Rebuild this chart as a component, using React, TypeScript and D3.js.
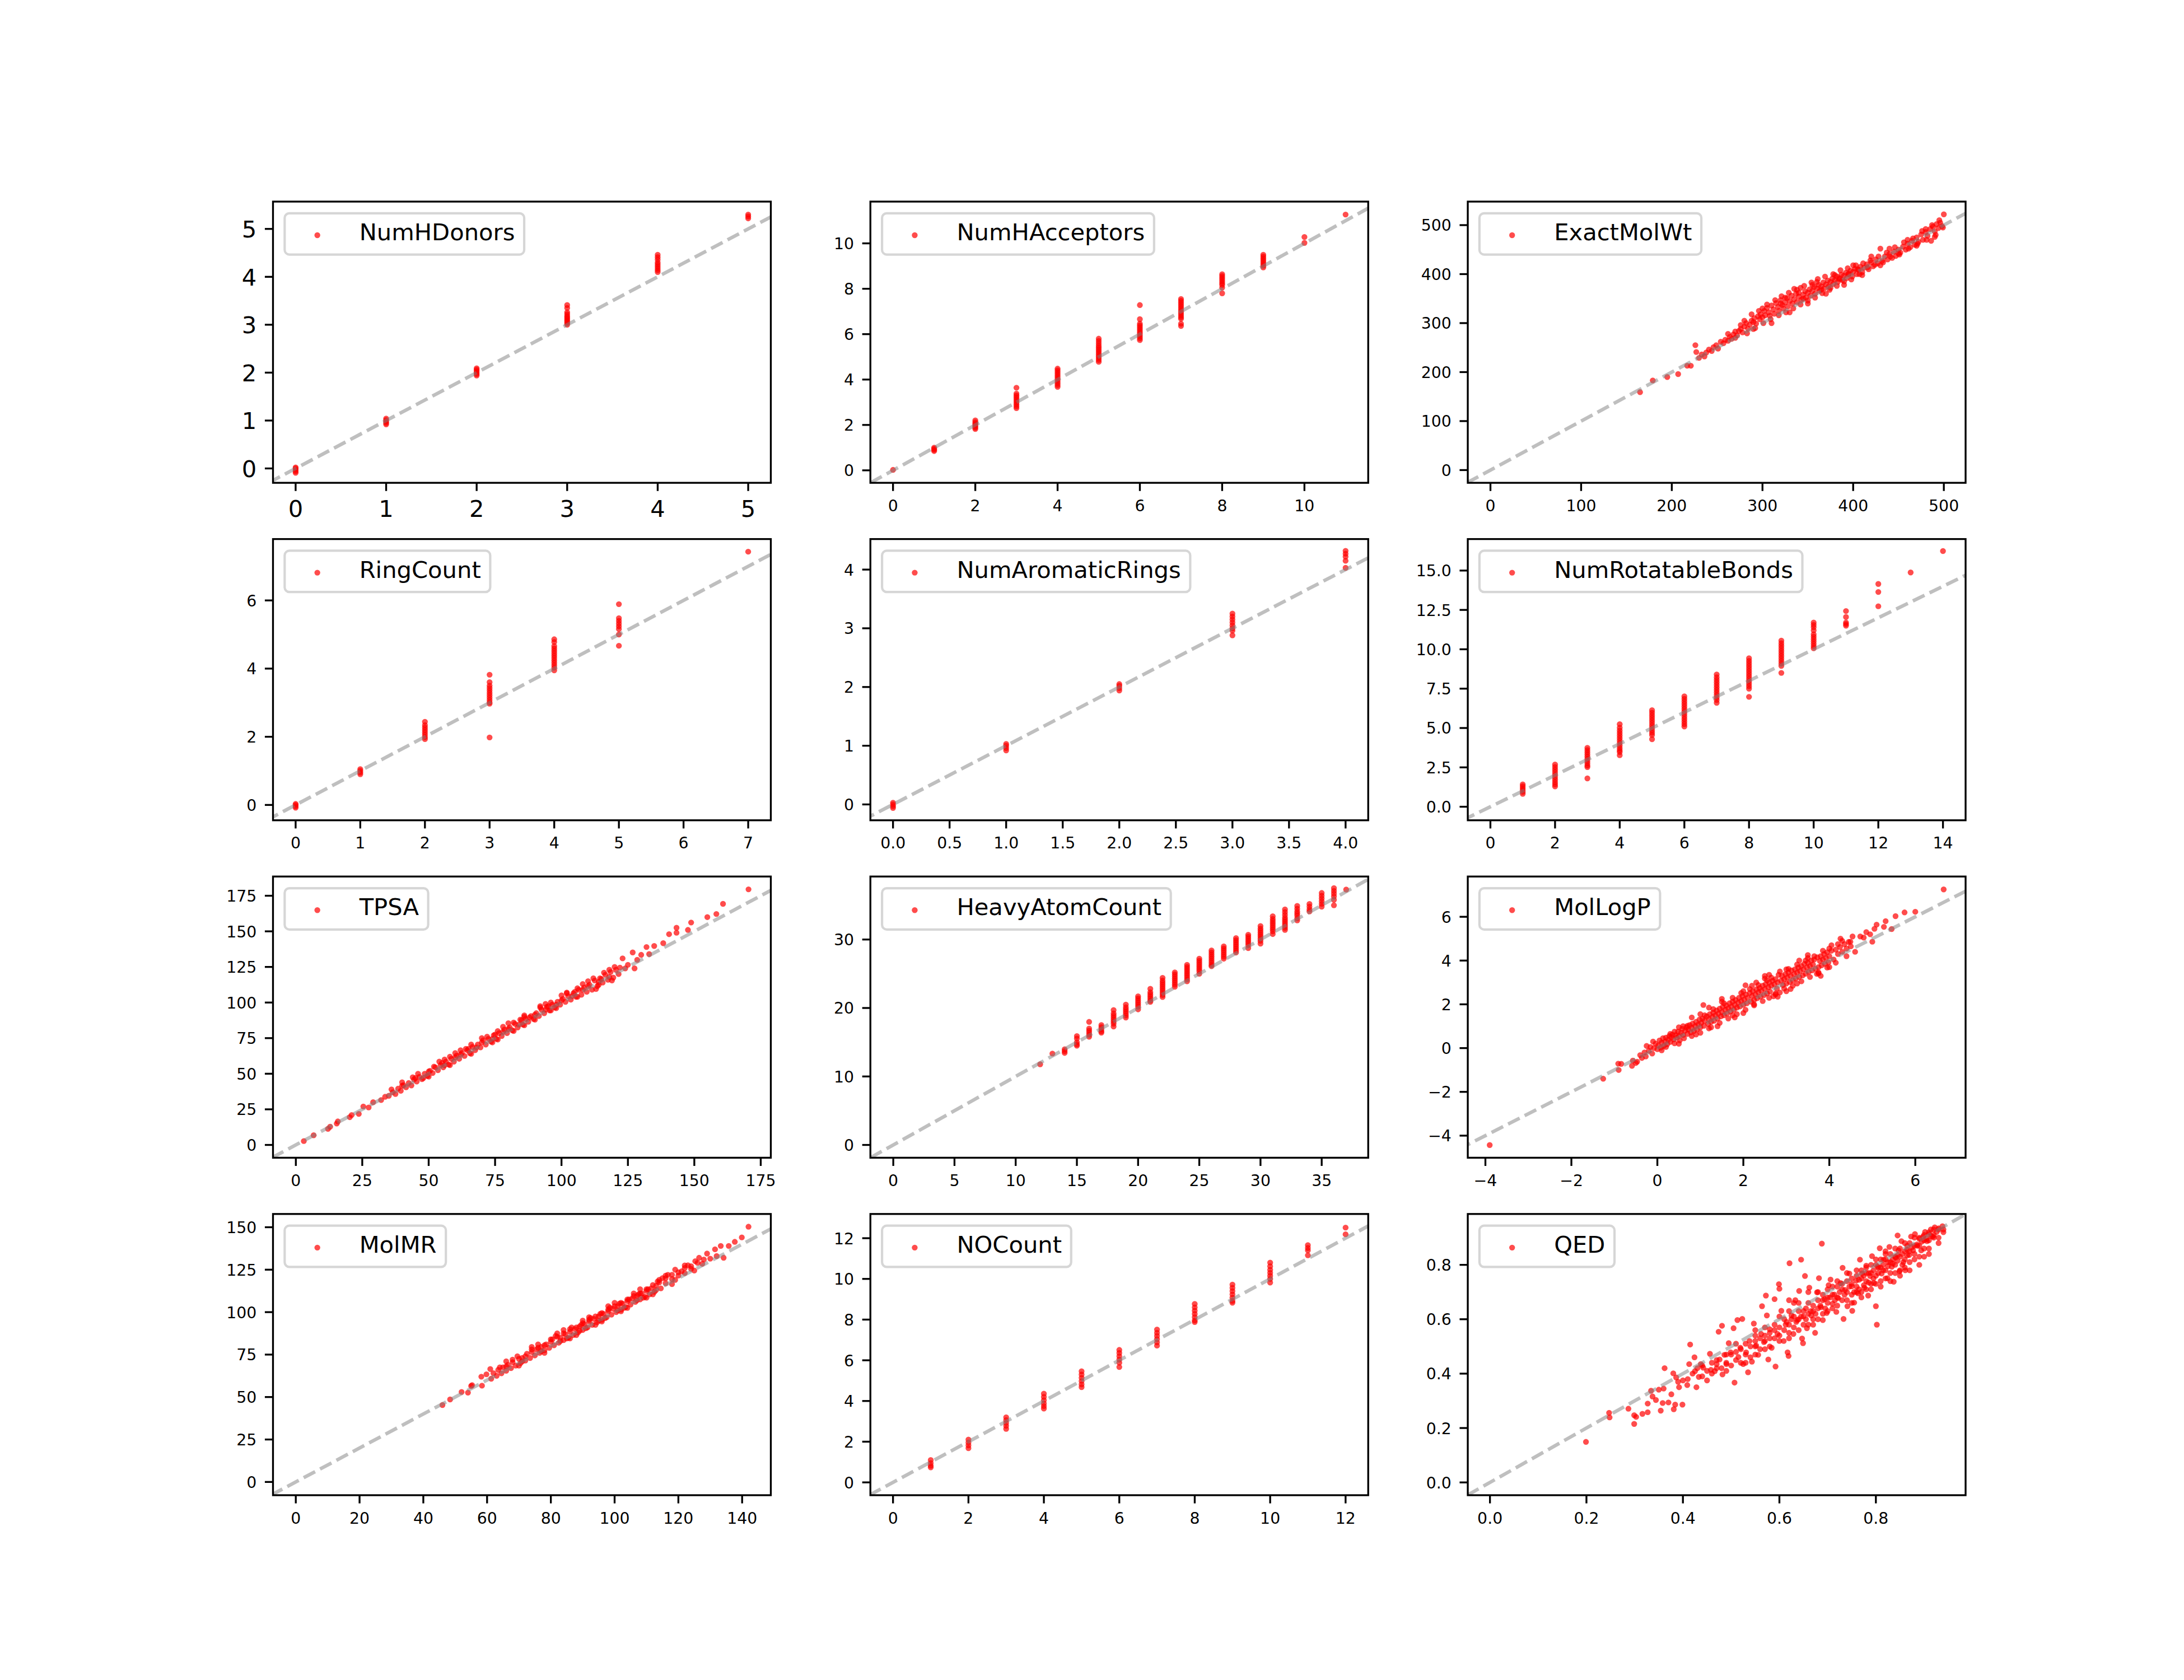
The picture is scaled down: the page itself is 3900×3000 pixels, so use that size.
import { useEffect, useRef } from 'react';
import * as d3 from 'd3';

type Pt = [number, number];

// ---- data: [reference, predicted] pairs ----
const numHDonors: Pt[] = [
  [0, -0.09], [0, -0.06], [0, -0.03], [0, 0.0], [0, 0.02],
  [1, 0.92], [1, 0.95], [1, 0.98], [1, 1.01], [1, 1.04],
  [2, 1.94], [2, 1.97], [2, 2.0], [2, 2.03], [2, 2.06], [2, 2.09],
  [3, 3.41], [3, 3.35], [3, 3.26], [3, 3.22], [3, 3.18], [3, 3.15], [3, 3.12], [3, 3.09], [3, 3.06], [3, 3.03], [3, 3.0],
  [4, 4.46], [4, 4.41], [4, 4.36], [4, 4.3], [4, 4.26], [4, 4.22], [4, 4.18], [4, 4.14], [4, 4.1],
  [5, 5.3], [5, 5.26], [5, 5.22],
];

const numHAcceptors: Pt[] = [
  [0, 0.02],
  [1, 0.85], [1, 0.9], [1, 0.95], [1, 1.0],
  [2, 1.82], [2, 1.88], [2, 1.94], [2, 2.0], [2, 2.06], [2, 2.12], [2, 2.2],
  [3, 3.64], [3, 3.38], [3, 3.3], [3, 3.22], [3, 3.14], [3, 3.06], [3, 2.98], [3, 2.9], [3, 2.82], [3, 2.74],
  [4, 4.48], [4, 4.4], [4, 4.32], [4, 4.24], [4, 4.16], [4, 4.08], [4, 4.0], [4, 3.92], [4, 3.84], [4, 3.76], [4, 3.68],
  [5, 5.8], [5, 5.7], [5, 5.6], [5, 5.5], [5, 5.42], [5, 5.34], [5, 5.26], [5, 5.18], [5, 5.1], [5, 5.02], [5, 4.94], [5, 4.86], [5, 4.78],
  [6, 7.28], [6, 6.66], [6, 6.46], [6, 6.38], [6, 6.3], [6, 6.22], [6, 6.14], [6, 6.06], [6, 5.98], [6, 5.9], [6, 5.82], [6, 5.74],
  [7, 7.55], [7, 7.47], [7, 7.39], [7, 7.31], [7, 7.23], [7, 7.15], [7, 7.07], [7, 6.99], [7, 6.91], [7, 6.83], [7, 6.75], [7, 6.68], [7, 6.46], [7, 6.36],
  [8, 8.64], [8, 8.56], [8, 8.48], [8, 8.4], [8, 8.32], [8, 8.24], [8, 8.17], [8, 8.05], [8, 7.8],
  [9, 9.5], [9, 9.42], [9, 9.34], [9, 9.26], [9, 9.18], [9, 9.1], [9, 9.02], [9, 8.94],
  [10, 10.28], [10, 10.02],
  [11, 11.27],
];

const exactMolWt: Pt[] = [
  [165, 159], [179, 183], [195, 190], [207, 196], [217, 213], [221, 213], [226, 255], [227, 241], [230, 229],
  [233, 236], [236, 232], [238, 240], [241, 246], [244, 243], [246, 251], [249, 255], [251, 248], [254, 262], [257, 259],
  [259, 266], [262, 264], [264, 272], [266, 268], [268, 277], [270, 283], [272, 275], [274, 284], [276, 288], [278, 281],
  [280, 293], [282, 300], [284, 289], [286, 297], [288, 305], [290, 302], [291, 310], [293, 299], [295, 314], [297, 308],
  [298, 318], [300, 312], [302, 325], [303, 316], [305, 331], [307, 322], [308, 315], [310, 336], [312, 328], [313, 319],
  [315, 341], [317, 333], [318, 325], [320, 347], [322, 337], [323, 330], [325, 342], [327, 351], [328, 334], [330, 345],
  [332, 356], [333, 340], [335, 349], [337, 360], [338, 343], [340, 354], [342, 372], [343, 348], [345, 358], [347, 365],
  [348, 352], [350, 362], [352, 369], [353, 356], [355, 366], [357, 374], [358, 360], [360, 371], [362, 378], [363, 366],
  [365, 375], [367, 383], [368, 371], [370, 379], [372, 387], [373, 375], [375, 384], [377, 391], [378, 380], [380, 388],
  [382, 395], [383, 384], [385, 392], [387, 399], [388, 388], [390, 397], [392, 403], [393, 392], [395, 401], [397, 407],
  [398, 389], [400, 405], [402, 411], [404, 400], [406, 409], [408, 415], [410, 404], [412, 413], [415, 420], [417, 410],
  [420, 424], [422, 416], [425, 430], [427, 422], [430, 452], [432, 427], [435, 436], [438, 430], [440, 441], [443, 433],
  [445, 446], [447, 437], [450, 450], [452, 444], [455, 456], [458, 450], [460, 462], [463, 455], [465, 468], [468, 460],
  [470, 475], [472, 466], [475, 481], [477, 470], [480, 486], [482, 478], [485, 492], [486, 468], [488, 497], [490, 487],
  [492, 502], [494, 494], [496, 505], [498, 498], [500, 522],
  [262, 278], [270, 270], [276, 296], [283, 279], [288, 318], [292, 290], [296, 325], [301, 300], [305, 338], [309, 308],
  [314, 347], [318, 316], [321, 355], [326, 322], [329, 362], [334, 330], [338, 368], [342, 338], [346, 376], [350, 346],
  [354, 383], [358, 352], [361, 390], [366, 361], [369, 395], [374, 368], [378, 400], [382, 376], [386, 408], [390, 385],
  [394, 412], [399, 395], [403, 418], [407, 400], [411, 422], [416, 414], [419, 428], [424, 419], [428, 436], [433, 424],
  [437, 444], [441, 436], [446, 455], [451, 440], [456, 465], [461, 452], [466, 473], [471, 462], [476, 488], [481, 470],
  [487, 500], [491, 480], [495, 510], [499, 495],
  [280, 305], [290, 288], [300, 330], [310, 300], [320, 340], [330, 322], [340, 362], [350, 340], [360, 384], [370, 360],
  [380, 398], [390, 378], [400, 418], [410, 398], [420, 436], [430, 418], [440, 452], [450, 442], [460, 470], [470, 458],
  [480, 492], [490, 476], [345, 350], [365, 368], [385, 390], [405, 410], [325, 352], [335, 370], [355, 378], [375, 372],
  [395, 400],
];

const ringCount: Pt[] = [
  [0, -0.08], [0, -0.04], [0, 0.0], [0, 0.03],
  [1, 0.9], [1, 0.95], [1, 1.0], [1, 1.05],
  [2, 2.44], [2, 2.34], [2, 2.27], [2, 2.2], [2, 2.13], [2, 2.06], [2, 1.99], [2, 1.93],
  [3, 3.82], [3, 3.6], [3, 3.5], [3, 3.43], [3, 3.36], [3, 3.29], [3, 3.22], [3, 3.15], [3, 3.08], [3, 3.01], [3, 2.97], [3, 1.98],
  [4, 4.86], [4, 4.78], [4, 4.66], [4, 4.59], [4, 4.52], [4, 4.45], [4, 4.38], [4, 4.31], [4, 4.24], [4, 4.17], [4, 4.1], [4, 4.03], [4, 3.95],
  [5, 5.89], [5, 5.48], [5, 5.4], [5, 5.32], [5, 5.24], [5, 5.16], [5, 5.0], [5, 4.67],
  [7, 7.43],
];

const numAromaticRings: Pt[] = [
  [0, -0.06], [0, -0.03], [0, 0.0], [0, 0.03],
  [1, 0.92], [1, 0.96], [1, 1.0], [1, 1.03],
  [2, 1.94], [2, 1.98], [2, 2.02], [2, 2.05],
  [3, 3.25], [3, 3.2], [3, 3.15], [3, 3.1], [3, 3.05], [3, 3.0], [3, 2.96], [3, 2.88],
  [4, 4.32], [4, 4.27], [4, 4.22], [4, 4.15], [4, 4.03],
];

const numRotatableBonds: Pt[] = [
  [1, 1.42], [1, 1.3], [1, 1.18], [1, 1.06], [1, 0.94], [1, 0.82],
  [2, 2.68], [2, 2.52], [2, 2.36], [2, 2.2], [2, 2.04], [2, 1.88], [2, 1.72], [2, 1.56], [2, 1.42], [2, 1.29],
  [3, 3.74], [3, 3.6], [3, 3.46], [3, 3.32], [3, 3.18], [3, 3.04], [3, 2.9], [3, 2.76], [3, 2.62], [3, 2.52], [3, 1.8],
  [4, 5.24], [4, 5.02], [4, 4.84], [4, 4.68], [4, 4.52], [4, 4.36], [4, 4.2], [4, 4.04], [4, 3.88], [4, 3.72], [4, 3.58], [4, 3.47], [4, 3.27],
  [5, 6.13], [5, 5.97], [5, 5.81], [5, 5.65], [5, 5.49], [5, 5.33], [5, 5.17], [5, 5.01], [5, 4.85], [5, 4.7], [5, 4.56], [5, 4.29],
  [6, 7.01], [6, 6.85], [6, 6.69], [6, 6.53], [6, 6.37], [6, 6.21], [6, 6.05], [6, 5.89], [6, 5.73], [6, 5.57], [6, 5.41], [6, 5.25], [6, 5.1],
  [7, 8.4], [7, 8.22], [7, 8.06], [7, 7.9], [7, 7.74], [7, 7.58], [7, 7.42], [7, 7.26], [7, 7.1], [7, 6.94], [7, 6.78], [7, 6.6],
  [8, 9.43], [8, 9.26], [8, 9.1], [8, 8.94], [8, 8.78], [8, 8.62], [8, 8.46], [8, 8.3], [8, 8.14], [8, 7.98], [8, 7.82], [8, 7.66], [8, 7.5], [8, 6.98],
  [9, 10.55], [9, 10.38], [9, 10.22], [9, 10.06], [9, 9.9], [9, 9.74], [9, 9.58], [9, 9.42], [9, 9.26], [9, 9.1], [9, 8.95], [9, 8.5],
  [10, 11.7], [10, 11.55], [10, 11.4], [10, 11.2], [10, 10.95], [10, 10.8], [10, 10.65], [10, 10.5], [10, 10.35], [10, 10.2], [10, 10.07],
  [11, 12.43], [11, 12.05], [11, 11.7], [11, 11.6], [11, 11.5],
  [12, 14.15], [12, 13.64], [12, 12.73],
  [13, 14.88],
  [14, 16.24],
];

const tpsa: Pt[] = [
  [3, 2.7], [6.7, 6.8], [12.1, 11.3], [12.9, 12.8], [15.4, 15], [15.8, 16.5], [20.3, 19.5], [21, 21], [23.7, 21.8],
  [25.4, 27], [27.4, 26.3], [29.1, 30], [32.1, 31.5], [33.6, 33.8], [35, 34.5], [36.5, 37], [37.5, 35.8], [38.5, 39.5],
  [39.5, 38], [40.5, 42], [41.5, 40.5], [42.5, 43.5], [43.5, 41.8], [44.5, 46], [45.5, 44.5], [46.5, 47.8], [47.5, 46.2],
  [48.5, 50], [49.5, 48.5], [50.5, 52], [51.5, 50.5], [52.5, 54.5], [53.5, 52.5], [54.5, 56], [55.5, 54.5], [56.5, 58.5],
  [57.5, 56.5], [58.5, 60.5], [59.5, 58.5], [60.5, 62.8], [61.5, 60.5], [62.5, 64.5], [63.5, 62.5], [64.5, 66.5],
  [65.5, 64.5], [66.5, 68.8], [67.5, 66.5], [68.5, 70.5], [69.5, 68.5], [70.5, 73.5], [71.5, 70.5], [72.5, 74.5],
  [73.5, 72.5], [74.5, 77], [75.5, 74.5], [76.5, 78.5], [77.5, 76.5], [78.5, 81], [79.5, 78.5], [80.5, 82.5], [81.5, 80.5],
  [82.5, 85], [83.5, 82.5], [84.5, 88], [85.5, 84.5], [86.5, 88.5], [87.5, 86.5], [88.5, 90.5], [89.5, 88.5], [90.5, 92.5],
  [91.5, 90.5], [92.5, 95], [93.5, 92.5], [94.5, 97], [95.5, 94.5], [96.5, 98.5], [97.5, 96.5], [98.5, 100.5], [99.5, 98.5],
  [100.5, 102.5], [101.5, 100.5], [102.5, 104.5], [103.5, 102], [104.5, 106.5], [105.5, 104], [106.5, 109], [107.5, 105.5],
  [108.5, 110.5], [109.5, 107.5], [110.5, 112.5], [111.5, 109], [112.5, 115.5], [113.5, 111.5], [114.5, 117], [115.5, 114],
  [116.5, 119.5], [117.5, 116], [118.5, 121.5], [119.5, 117.5], [120.5, 123], [121.5, 120], [123, 131], [124, 124],
  [125, 126.5], [126.8, 135.2], [127.5, 124], [128.5, 130], [130, 133.5], [132, 139], [133, 134], [134.9, 139.7],
  [138.3, 141.7], [140.5, 148], [143.3, 152.5], [143.3, 149], [147.6, 151], [148.8, 156.2], [154.9, 160], [158.3, 162.2],
  [160.8, 169.3], [170.4, 179.5],
  [45, 47], [50, 51.5], [55, 57.5], [60, 61.5], [65, 67.5], [70, 72], [75, 77.5], [80, 81.5], [85, 87.5], [90, 91.5],
  [95, 97.5], [100, 101.5], [105, 107.5], [110, 111.5], [115, 116.5],
  [36, 39], [40, 41.5], [44, 47.5], [48, 47], [52, 55], [56, 56], [58, 62], [62, 63.5], [64, 67.5], [68, 68.5], [72, 76],
  [74, 74.5], [76, 80], [78, 79.5], [82, 86], [84, 84.5], [86, 90], [88, 89.5], [92, 96.5], [94, 95], [96, 100], [98, 98.5],
  [102, 106.5], [104, 104.5], [106, 110], [108, 109], [112, 117], [114, 114.5], [116, 121], [118, 118], [120, 125],
  [122, 124.5], [119, 115.5], [113, 109.5],
  [40, 44], [46, 50], [50, 48], [54, 58.5], [58, 56], [62, 66.5], [66, 64], [70, 75], [74, 72], [78, 83], [82, 80],
  [86, 91], [90, 88], [94, 99], [98, 96], [102, 107], [106, 104], [110, 115], [114, 112.5], [118, 123], [60, 64.5],
  [80, 85.5], [100, 105], [76, 74], [96, 94.5], [56, 60], [66, 70.5], [86, 84], [92, 97.5], [108, 113],
];

const heavyAtomCount: Pt[] = [
  [12, 11.78], [13, 13.34], [14, 13.97], [14, 13.7], [14, 13.44],
  [15, 15.9], [15, 15.55], [15, 15.0], [15, 14.7], [15, 14.5],
  [16, 17.97], [16, 17.0], [16, 16.7], [16, 16.4], [16, 16.1], [16, 15.8],
  [17, 17.5], [17, 17.2], [17, 16.9], [17, 16.6], [17, 16.4],
  [18, 19.7], [18, 19.2], [18, 18.9], [18, 18.6], [18, 18.3], [18, 18.0], [18, 17.7], [18, 17.3],
  [19, 20.5], [19, 20.1], [19, 19.8], [19, 19.5], [19, 19.2], [19, 18.9], [19, 18.6],
  [20, 21.7], [20, 21.4], [20, 21.1], [20, 20.8], [20, 20.5], [20, 20.2], [20, 19.8],
  [21, 22.8], [21, 22.3], [21, 22.0], [21, 21.7], [21, 21.4], [21, 21.1], [21, 20.9],
  [22, 24.4], [22, 24.0], [22, 23.7], [22, 23.4], [22, 23.1], [22, 22.8], [22, 22.5], [22, 22.2], [22, 21.9], [22, 21.6],
  [23, 25.2], [23, 24.9], [23, 24.6], [23, 24.3], [23, 24.0], [23, 23.7], [23, 23.4], [23, 23.1],
  [24, 26.3], [24, 26.0], [24, 25.7], [24, 25.4], [24, 25.1], [24, 24.8], [24, 24.5], [24, 24.2], [24, 23.9],
  [25, 27.2], [25, 26.9], [25, 26.6], [25, 26.3], [25, 26.0], [25, 25.7], [25, 25.4], [25, 25.0],
  [26, 28.4], [26, 28.1], [26, 27.8], [26, 27.5], [26, 27.2], [26, 26.9], [26, 26.6], [26, 26.3], [26, 26.1],
  [27, 29.0], [27, 28.7], [27, 28.4], [27, 28.1], [27, 27.8], [27, 27.5], [27, 27.2],
  [28, 30.2], [28, 29.9], [28, 29.6], [28, 29.3], [28, 29.0], [28, 28.7], [28, 28.4], [28, 28.1],
  [29, 30.7], [29, 30.4], [29, 30.1], [29, 29.8], [29, 29.5], [29, 29.2], [29, 28.75],
  [30, 31.97], [30, 31.6], [30, 31.3], [30, 31.0], [30, 30.7], [30, 30.4], [30, 30.1], [30, 29.8], [30, 29.4],
  [31, 33.4], [31, 33.0], [31, 32.7], [31, 32.4], [31, 32.1], [31, 31.8], [31, 31.5], [31, 31.2], [31, 30.8],
  [32, 34.4], [32, 34.0], [32, 33.6], [32, 33.2], [32, 32.9], [32, 32.6], [32, 32.3], [32, 32.0], [32, 31.7], [32, 31.4],
  [33, 34.9], [33, 34.5], [33, 34.1], [33, 33.8], [33, 33.5], [33, 33.1], [33, 32.8],
  [34, 35.2], [34, 34.8], [34, 34.4], [34, 34.1],
  [35, 36.8], [35, 36.4], [35, 36.0], [35, 35.6], [35, 35.2], [35, 34.8],
  [36, 37.5], [36, 37.1], [36, 36.7], [36, 36.3], [36, 35.8], [36, 35.0],
  [37, 37.3],
];

const molLogP: Pt[] = [
  [-3.9, -4.43], [-1.26, -1.4], [-0.91, -0.71], [-0.9, -1.0], [-0.84, -0.72], [-0.59, -0.81], [-0.57, -0.57],
  [-0.5, -0.68], [-0.47, -0.62], [-0.4, -0.32], [-0.36, -0.45], [-0.3, -0.2], [-0.27, -0.38], [-0.2, -0.12],
  [-0.16, 0.05], [-0.12, -0.25], [-0.08, 0.0], [-0.04, 0.2], [0.0, -0.05], [0.02, 0.12], [0.05, 0.35], [0.08, 0.02],
  [0.1, 0.25], [0.13, 0.45], [0.15, 0.1], [0.18, 0.3], [0.2, 0.48], [0.23, 0.18], [0.25, 0.38], [0.28, 0.55],
  [0.3, 0.28], [0.33, 0.5], [0.35, 0.62], [0.38, 0.4], [0.4, 0.22], [0.43, 0.6], [0.45, 0.48], [0.48, 0.75],
  [0.5, 0.55], [0.52, 0.35], [0.55, 0.7], [0.58, 0.88], [0.6, 0.6], [0.62, 0.45], [0.65, 0.8], [0.68, 0.95],
  [0.7, 0.65], [0.72, 0.85], [0.75, 1.05], [0.78, 0.72], [0.8, 0.92], [0.82, 1.12], [0.85, 0.78], [0.88, 1.0],
  [0.9, 1.2], [0.92, 0.85], [0.95, 1.08], [0.98, 1.3], [1.0, 0.95], [1.02, 1.15], [1.05, 1.35], [1.07, 1.97],
  [1.08, 1.02], [1.1, 1.25], [1.15, 1.45], [1.18, 1.1], [1.2, 1.32], [1.22, 1.55], [1.25, 1.2], [1.28, 1.42],
  [1.3, 1.62], [1.32, 1.25], [1.35, 1.5], [1.38, 1.72], [1.4, 1.35], [1.42, 1.58], [1.45, 1.8], [1.48, 1.45],
  [1.5, 1.65], [1.52, 1.88], [1.55, 1.5], [1.58, 1.75], [1.6, 1.95], [1.62, 1.58], [1.65, 1.82], [1.68, 2.05],
  [1.7, 1.68], [1.72, 1.9], [1.75, 2.12], [1.78, 1.75], [1.8, 1.98], [1.82, 2.2], [1.85, 1.85], [1.88, 2.08],
  [1.9, 2.3], [1.92, 1.9], [1.95, 2.15], [1.98, 2.38], [2.0, 1.98], [2.02, 2.22], [2.05, 2.87], [2.06, 2.45],
  [2.08, 2.05], [2.1, 2.3], [2.15, 2.52], [2.18, 2.12], [2.2, 2.38], [2.22, 2.6], [2.25, 2.2], [2.28, 2.45],
  [2.3, 2.68], [2.32, 2.28], [2.35, 2.55], [2.38, 2.75], [2.4, 2.35], [2.42, 2.62], [2.45, 2.85], [2.48, 2.42],
  [2.5, 2.7], [2.52, 2.92], [2.55, 2.5], [2.58, 2.78], [2.6, 3.0], [2.62, 2.58], [2.65, 2.85], [2.68, 3.08],
  [2.7, 2.37], [2.72, 2.92], [2.75, 3.15], [2.78, 2.72], [2.8, 3.0], [2.82, 3.35], [2.85, 2.54], [2.88, 3.08],
  [2.9, 3.3], [2.92, 2.88], [2.95, 3.15], [2.98, 3.38], [3.0, 2.95], [3.02, 3.22], [3.05, 3.45], [3.08, 3.02],
  [3.1, 3.3], [3.12, 3.55], [3.15, 3.1], [3.18, 3.38], [3.2, 3.6], [3.22, 3.18], [3.25, 3.45], [3.28, 3.68],
  [3.3, 3.25], [3.32, 3.52], [3.35, 3.75], [3.38, 3.32], [3.4, 3.6], [3.42, 3.85], [3.45, 3.4], [3.48, 3.68],
  [3.5, 3.9], [3.52, 3.48], [3.55, 3.75], [3.58, 4.0], [3.6, 3.55], [3.62, 3.82], [3.65, 4.05], [3.68, 3.62],
  [3.71, 3.39], [3.72, 4.15], [3.75, 3.7], [3.78, 3.98], [3.8, 4.2], [3.82, 3.78], [3.85, 4.05], [3.88, 4.3],
  [3.9, 3.85], [3.92, 4.12], [3.95, 4.38], [3.98, 3.92], [4.0, 4.2], [4.05, 4.45], [4.1, 4.05], [4.15, 4.5],
  [4.2, 4.3], [4.25, 4.62], [4.26, 5.0], [4.3, 4.4], [4.35, 4.75], [4.4, 4.55], [4.45, 4.85], [4.49, 4.86],
  [4.54, 5.1], [4.72, 5.1], [4.86, 5.3], [5.0, 4.86], [5.1, 5.64], [5.27, 5.54], [5.31, 5.8], [5.45, 5.44],
  [5.54, 6.03], [5.75, 6.2], [6.0, 6.23], [6.66, 7.25],
  [0.1, -0.1], [0.3, 0.65], [0.5, 0.2], [0.7, 1.02], [0.9, 0.62], [1.1, 1.5], [1.2, 0.9], [1.3, 1.78], [1.45, 1.15],
  [1.55, 2.05], [1.65, 1.35], [1.75, 2.3], [1.85, 1.55], [1.95, 2.52], [2.05, 1.75], [2.15, 2.7], [2.25, 1.95],
  [2.35, 2.88], [2.45, 2.15], [2.55, 3.1], [2.6, 2.3], [2.65, 3.22], [2.75, 2.5], [2.85, 3.5], [2.95, 2.72],
  [3.05, 3.62], [3.15, 2.85], [3.25, 3.82], [3.35, 3.05], [3.45, 4.0], [3.55, 3.25], [3.65, 4.2], [3.75, 3.45],
  [3.85, 4.45], [3.95, 3.68], [4.05, 4.7], [4.15, 3.9], [4.3, 4.9], [4.4, 4.2], [4.5, 4.65], [4.6, 4.4], [4.8, 5.05],
  [4.95, 5.2], [5.05, 5.45], [1.0, 1.55], [1.5, 2.12], [2.0, 2.6], [2.5, 3.18], [3.0, 3.6], [3.5, 4.12], [4.0, 4.55],
  [1.25, 0.95], [1.75, 1.5], [2.25, 2.0], [2.75, 2.45], [3.25, 2.95], [3.75, 3.42], [0.6, 1.0], [0.8, 0.55],
  [0.4, 0.75], [0.2, 0.05], [-0.1, 0.3], [-0.25, 0.1],
  [0.5, 0.95], [1.0, 0.7], [1.5, 2.25], [2.0, 1.6], [2.5, 3.3], [3.0, 2.6], [3.5, 4.25], [4.0, 3.7], [1.2, 1.85],
  [1.8, 1.4], [2.3, 3.0], [2.8, 2.35], [3.3, 4.0], [3.8, 3.3], [0.8, 1.4], [2.6, 3.35], [3.1, 2.7], [1.4, 1.0],
  [4.2, 4.75], [2.2, 2.85],
];

const molMR: Pt[] = [
  [46, 45.3], [48.4, 48.6], [52, 53], [54, 52.6], [55, 56.5], [55.3, 57], [58.4, 56.7], [58.2, 62], [59.8, 63.4],
  [61, 66.5], [61.3, 60.8], [62, 64], [63, 62.5], [63.5, 66], [64.5, 64], [65, 67.5], [66, 65.5], [66.5, 69],
  [67.5, 67], [68, 70.5], [69, 68.5], [69.5, 74], [70.5, 70], [71, 73], [72, 71.5], [72.5, 75.5], [73.5, 73],
  [74, 76.5], [75, 74.5], [75.5, 78], [76.5, 76], [77, 79.5], [78, 77.5], [78.5, 81], [79.5, 79], [80, 82.5],
  [81, 80.5], [81.5, 86], [82.5, 82], [83, 85], [84, 83.5], [84.5, 87], [85.5, 85], [86, 88.5], [87, 86.5],
  [87.5, 90], [88.5, 88], [89, 91.5], [90, 89.5], [90.5, 93], [91.5, 91], [92, 94.5], [93, 92.5], [93.5, 96],
  [94.5, 94], [95, 97.5], [96, 95.5], [96.5, 99], [97.5, 97], [98, 100.5], [99, 98.5], [99.5, 102], [100.5, 100],
  [101, 103.5], [102, 101.5], [102.5, 105], [103.5, 103], [104, 106.5], [105, 104.5], [105.5, 108], [106.5, 106],
  [107, 109.5], [108, 107.5], [108.5, 111], [109.5, 109], [110, 112.5], [111, 110.5], [111.5, 114], [112.5, 112],
  [113, 115.5], [113.5, 118], [114.5, 114], [115, 120], [116, 117], [116.7, 122], [118, 119.5], [119, 125],
  [120, 121.5], [121, 124], [122, 123], [123, 127.6], [124, 125.5], [125.3, 130], [126.5, 132], [127.5, 128.5],
  [129, 134.5], [130, 131.5], [131.5, 137], [132, 133], [133.3, 139], [134.2, 132], [135.8, 139], [137.7, 141.4],
  [139.9, 144], [142, 150.3],
  [80.5, 84], [86.5, 91], [89.5, 92.5], [92.5, 96.5], [95.5, 99], [98.5, 102.5], [101.5, 105], [104.5, 107.5],
  [107.5, 110.5], [110.5, 113.5], [85, 84.5], [91, 90.5], [97, 96.5], [103, 102.5], [109, 108.5],
  [64, 67.5], [66, 68], [68, 72], [70, 72.5], [72, 74], [74, 78], [76, 79], [78, 80.5], [80, 84], [82, 85.5], [84, 87.5],
  [86, 90], [88, 91], [90, 93.5], [92, 95.5], [94, 97.5], [96, 99.5], [98, 101.5], [100, 103.5], [102, 105.5],
  [104, 107.5], [106, 109.5], [108, 111], [110, 113.5], [112, 116], [114, 117.5], [116, 120], [118, 122], [120, 123.5],
  [122, 126], [124, 127], [126, 129], [128, 131], [71, 71], [77, 77], [83, 83], [89, 89], [95, 95], [101, 101],
  [107, 107], [113, 113], [119, 119], [125, 124.5],
  [66, 71], [70, 68.5], [74, 79.5], [78, 76], [82, 87.5], [86, 84.5], [90, 95], [94, 92.5], [98, 103.5], [102, 100.5],
  [106, 111], [110, 108.5], [114, 119], [118, 116.5], [122, 127.5], [76, 81], [84, 89.5], [92, 97], [100, 105.5],
  [108, 113.5], [116, 121.5], [88, 86.5], [96, 94.5], [104, 102.5], [112, 110.5],
];

const noCount: Pt[] = [
  [1, 1.1], [1, 0.95], [1, 0.82], [1, 0.74],
  [2, 2.1], [2, 1.96], [2, 1.82], [2, 1.68],
  [3, 3.2], [3, 3.06], [3, 2.92], [3, 2.78], [3, 2.63],
  [4, 4.36], [4, 4.2], [4, 4.04], [4, 3.88], [4, 3.75], [4, 3.63],
  [5, 5.46], [5, 5.3], [5, 5.14], [5, 4.98], [5, 4.82], [5, 4.68],
  [6, 6.51], [6, 6.36], [6, 6.2], [6, 6.04], [6, 5.88], [6, 5.67],
  [7, 7.51], [7, 7.35], [7, 7.2], [7, 7.04], [7, 6.88], [7, 6.72],
  [8, 8.77], [8, 8.6], [8, 8.44], [8, 8.28], [8, 8.12], [8, 7.96], [8, 7.88],
  [9, 9.72], [9, 9.56], [9, 9.4], [9, 9.24], [9, 9.08], [9, 8.92], [9, 8.83],
  [10, 10.8], [10, 10.62], [10, 10.45], [10, 10.3], [10, 10.15], [10, 10.0], [10, 9.82],
  [11, 11.66], [11, 11.52], [11, 11.4], [11, 11.16],
  [12, 12.52], [12, 12.19],
];

const qed: Pt[] = [
  [0.199, 0.149], [0.247, 0.256], [0.248, 0.239], [0.287, 0.271], [0.299, 0.215], [0.299, 0.247], [0.303, 0.241],
  [0.316, 0.252], [0.327, 0.258], [0.327, 0.29], [0.334, 0.337], [0.337, 0.316], [0.344, 0.303], [0.35, 0.341],
  [0.354, 0.264], [0.358, 0.292], [0.36, 0.345], [0.362, 0.42], [0.37, 0.294], [0.376, 0.324], [0.38, 0.401],
  [0.381, 0.269], [0.384, 0.286], [0.386, 0.386], [0.392, 0.35], [0.399, 0.286], [0.4, 0.375], [0.409, 0.358],
  [0.413, 0.435], [0.415, 0.507], [0.424, 0.46], [0.425, 0.409], [0.428, 0.35], [0.433, 0.388], [0.437, 0.435],
  [0.442, 0.422], [0.45, 0.375], [0.456, 0.473], [0.458, 0.414], [0.466, 0.409], [0.47, 0.435], [0.474, 0.554],
  [0.476, 0.452], [0.481, 0.576], [0.482, 0.397], [0.486, 0.469], [0.49, 0.435], [0.495, 0.512], [0.499, 0.478],
  [0.505, 0.567], [0.507, 0.367], [0.513, 0.597], [0.515, 0.461], [0.519, 0.495], [0.523, 0.601], [0.525, 0.435],
  [0.531, 0.478], [0.535, 0.405], [0.538, 0.52], [0.543, 0.444], [0.547, 0.584], [0.552, 0.503], [0.556, 0.469],
  [0.562, 0.546], [0.564, 0.648], [0.568, 0.516], [0.572, 0.687], [0.574, 0.614], [0.577, 0.452], [0.58, 0.563],
  [0.584, 0.495], [0.59, 0.674], [0.592, 0.426], [0.596, 0.546], [0.599, 0.729], [0.6, 0.712], [0.604, 0.631],
  [0.609, 0.52], [0.613, 0.58], [0.617, 0.478], [0.619, 0.465], [0.621, 0.806], [0.625, 0.614], [0.629, 0.546],
  [0.633, 0.67], [0.637, 0.597], [0.641, 0.704], [0.645, 0.819], [0.647, 0.529], [0.649, 0.512], [0.653, 0.759],
  [0.655, 0.64], [0.657, 0.567], [0.662, 0.716], [0.666, 0.614], [0.67, 0.58], [0.674, 0.55], [0.678, 0.699],
  [0.682, 0.751], [0.686, 0.644], [0.688, 0.878], [0.69, 0.597], [0.694, 0.674], [0.698, 0.623], [0.702, 0.725],
  [0.706, 0.746], [0.71, 0.657], [0.714, 0.691], [0.718, 0.627], [0.722, 0.678], [0.727, 0.733], [0.731, 0.789],
  [0.733, 0.601], [0.736, 0.708], [0.741, 0.648], [0.745, 0.768], [0.75, 0.721], [0.751, 0.631], [0.755, 0.661],
  [0.759, 0.742], [0.763, 0.695], [0.767, 0.819], [0.771, 0.768], [0.776, 0.716], [0.78, 0.797], [0.784, 0.687],
  [0.788, 0.759], [0.792, 0.832], [0.796, 0.733], [0.8, 0.648], [0.802, 0.58], [0.804, 0.793], [0.808, 0.861],
  [0.812, 0.768], [0.816, 0.819], [0.82, 0.84], [0.824, 0.751], [0.828, 0.866], [0.833, 0.793], [0.837, 0.738],
  [0.841, 0.827], [0.845, 0.908], [0.847, 0.853], [0.849, 0.776], [0.853, 0.887], [0.857, 0.81], [0.861, 0.78],
  [0.865, 0.87], [0.869, 0.836], [0.873, 0.904], [0.877, 0.853], [0.881, 0.913], [0.886, 0.87], [0.89, 0.896],
  [0.894, 0.853], [0.898, 0.904], [0.902, 0.921], [0.906, 0.887], [0.91, 0.913], [0.914, 0.93], [0.918, 0.904],
  [0.922, 0.938], [0.926, 0.921], [0.93, 0.934], [0.938, 0.942],
  [0.6, 0.57], [0.61, 0.6], [0.62, 0.58], [0.63, 0.61], [0.64, 0.6], [0.65, 0.63], [0.66, 0.62], [0.67, 0.65],
  [0.68, 0.64], [0.69, 0.67], [0.7, 0.66], [0.71, 0.69], [0.72, 0.68], [0.73, 0.71], [0.74, 0.7], [0.75, 0.73],
  [0.76, 0.72], [0.77, 0.75], [0.78, 0.74], [0.79, 0.77], [0.8, 0.76], [0.81, 0.79], [0.82, 0.78], [0.83, 0.81],
  [0.84, 0.8], [0.85, 0.83], [0.86, 0.82], [0.87, 0.85], [0.88, 0.84], [0.89, 0.87], [0.9, 0.86], [0.91, 0.89],
  [0.92, 0.9], [0.62, 0.63], [0.64, 0.56], [0.66, 0.58], [0.68, 0.7], [0.7, 0.63], [0.72, 0.74], [0.74, 0.67],
  [0.76, 0.78], [0.78, 0.71], [0.8, 0.82], [0.82, 0.75], [0.84, 0.86], [0.86, 0.79], [0.88, 0.9], [0.9, 0.83],
  [0.92, 0.93], [0.93, 0.88], [0.94, 0.92], [0.5, 0.47], [0.52, 0.49], [0.54, 0.5], [0.56, 0.53], [0.58, 0.55],
  [0.55, 0.56], [0.57, 0.52], [0.59, 0.58], [0.53, 0.47], [0.51, 0.45], [0.49, 0.44], [0.47, 0.42], [0.45, 0.41],
  [0.44, 0.39],
  [0.58, 0.53], [0.6, 0.61], [0.62, 0.55], [0.63, 0.66], [0.64, 0.63], [0.65, 0.58], [0.66, 0.66], [0.67, 0.6],
  [0.68, 0.67], [0.69, 0.62], [0.7, 0.71], [0.71, 0.64], [0.72, 0.72], [0.73, 0.67], [0.74, 0.74], [0.75, 0.69],
  [0.76, 0.76], [0.77, 0.7], [0.78, 0.79], [0.79, 0.73], [0.8, 0.8], [0.81, 0.74], [0.82, 0.82], [0.83, 0.77],
  [0.84, 0.83], [0.85, 0.78], [0.86, 0.85], [0.87, 0.81], [0.88, 0.87], [0.89, 0.83], [0.9, 0.89], [0.91, 0.86],
  [0.92, 0.91], [0.93, 0.9], [0.94, 0.93],
  [0.765, 0.745], [0.775, 0.76], [0.785, 0.77], [0.795, 0.78], [0.805, 0.79], [0.815, 0.8], [0.825, 0.81],
  [0.835, 0.82], [0.845, 0.835], [0.855, 0.84], [0.865, 0.855], [0.875, 0.865], [0.885, 0.875], [0.895, 0.885],
  [0.905, 0.895], [0.915, 0.905], [0.755, 0.7], [0.765, 0.71], [0.775, 0.725], [0.785, 0.735], [0.795, 0.75],
  [0.805, 0.77], [0.815, 0.78], [0.825, 0.795], [0.835, 0.805], [0.845, 0.815], [0.855, 0.8], [0.865, 0.835],
  [0.615, 0.59], [0.625, 0.6], [0.635, 0.59], [0.645, 0.61], [0.655, 0.6], [0.665, 0.63], [0.675, 0.62],
  [0.685, 0.65], [0.695, 0.64], [0.705, 0.68], [0.715, 0.67], [0.725, 0.7], [0.735, 0.69], [0.745, 0.72],
  [0.53, 0.51], [0.55, 0.52], [0.57, 0.54], [0.59, 0.56], [0.6, 0.54], [0.58, 0.5], [0.56, 0.49], [0.54, 0.46],
  [0.52, 0.44], [0.5, 0.43], [0.48, 0.42], [0.46, 0.4], [0.44, 0.43], [0.42, 0.4], [0.46, 0.44], [0.49, 0.47],
  [0.51, 0.48], [0.55, 0.5], [0.62, 0.53], [0.6, 0.52],
  [0.62, 0.67], [0.64, 0.66], [0.66, 0.7], [0.68, 0.6], [0.7, 0.68], [0.72, 0.65], [0.74, 0.77], [0.76, 0.7],
  [0.78, 0.77], [0.8, 0.73], [0.82, 0.85], [0.84, 0.77], [0.86, 0.88], [0.88, 0.82], [0.9, 0.91], [0.55, 0.54],
  [0.57, 0.57], [0.59, 0.53], [0.61, 0.56], [0.63, 0.57], [0.65, 0.61], [0.67, 0.63], [0.69, 0.69], [0.71, 0.72],
  [0.73, 0.73], [0.75, 0.75], [0.77, 0.78], [0.79, 0.8], [0.81, 0.82], [0.83, 0.84], [0.85, 0.86], [0.87, 0.88],
  [0.89, 0.9], [0.91, 0.92], [0.93, 0.93], [0.75, 0.66], [0.77, 0.68], [0.79, 0.71], [0.81, 0.72], [0.83, 0.74],
  [0.85, 0.76], [0.87, 0.78], [0.89, 0.8], [0.91, 0.84], [0.47, 0.45], [0.49, 0.41], [0.51, 0.51], [0.53, 0.44],
  [0.55, 0.47], [0.57, 0.49], [0.43, 0.42], [0.41, 0.38], [0.39, 0.37],
];

// ---- tick labels ----
const ticks0to5 = [0, 1, 2, 3, 4, 5];
const ticks0to10by2 = [0, 2, 4, 6, 8, 10];
const ticksMolWt = [0, 100, 200, 300, 400, 500];
const ticks0to7 = [0, 1, 2, 3, 4, 5, 6, 7];
const ticksRingY = [0, 2, 4, 6];
const ticksAroX = [0, 0.5, 1, 1.5, 2, 2.5, 3, 3.5, 4];
const ticksAroY = [0, 1, 2, 3, 4];
const ticksRotX = [0, 2, 4, 6, 8, 10, 12, 14];
const ticksRotY = [0, 2.5, 5, 7.5, 10, 12.5, 15];
const ticksTpsa = [0, 25, 50, 75, 100, 125, 150, 175];
const ticksHeavyX = [0, 5, 10, 15, 20, 25, 30, 35];
const ticksHeavyY = [0, 10, 20, 30];
const ticksLogP = [-4, -2, 0, 2, 4, 6];
const ticksMrX = [0, 20, 40, 60, 80, 100, 120, 140];
const ticksMrY = [0, 25, 50, 75, 100, 125, 150];
const ticks0to12by2 = [0, 2, 4, 6, 8, 10, 12];
const ticksQed = [0, 0.2, 0.4, 0.6, 0.8];

interface Panel {
  name: string;
  points: Pt[];
  xDomain: [number, number];
  yDomain: [number, number];
  xTicks: number[];
  yTicks: number[];
  xFmt?: string;
  yFmt?: string;
  bigTicks?: boolean;
}

const panels: Panel[] = [
  { name: 'NumHDonors', points: numHDonors, xDomain: [-0.25, 5.25], yDomain: [-0.3, 5.57], xTicks: ticks0to5, yTicks: ticks0to5, bigTicks: true },
  { name: 'NumHAcceptors', points: numHAcceptors, xDomain: [-0.55, 11.55], yDomain: [-0.55, 11.84], xTicks: ticks0to10by2, yTicks: ticks0to10by2 },
  { name: 'ExactMolWt', points: exactMolWt, xDomain: [-25, 524], yDomain: [-26, 548], xTicks: ticksMolWt, yTicks: ticksMolWt },
  { name: 'RingCount', points: ringCount, xDomain: [-0.35, 7.35], yDomain: [-0.45, 7.8], xTicks: ticks0to7, yTicks: ticksRingY },
  { name: 'NumAromaticRings', points: numAromaticRings, xDomain: [-0.2, 4.2], yDomain: [-0.27, 4.52], xTicks: ticksAroX, yTicks: ticksAroY, xFmt: '.1f' },
  { name: 'NumRotatableBonds', points: numRotatableBonds, xDomain: [-0.7, 14.7], yDomain: [-0.86, 17.0], xTicks: ticksRotX, yTicks: ticksRotY, yFmt: '.1f' },
  { name: 'TPSA', points: tpsa, xDomain: [-8.6, 178.8], yDomain: [-9, 188.5], xTicks: ticksTpsa, yTicks: ticksTpsa },
  { name: 'HeavyAtomCount', points: heavyAtomCount, xDomain: [-1.87, 38.8], yDomain: [-1.87, 39.2], xTicks: ticksHeavyX, yTicks: ticksHeavyY },
  { name: 'MolLogP', points: molLogP, xDomain: [-4.41, 7.17], yDomain: [-5.01, 7.84], xTicks: ticksLogP, yTicks: ticksLogP },
  { name: 'MolMR', points: molMR, xDomain: [-7.15, 149], yDomain: [-7.8, 157.8], xTicks: ticksMrX, yTicks: ticksMrY },
  { name: 'NOCount', points: noCount, xDomain: [-0.6, 12.6], yDomain: [-0.63, 13.19], xTicks: ticks0to12by2, yTicks: ticks0to12by2 },
  { name: 'QED', points: qed, xDomain: [-0.046, 0.986], yDomain: [-0.047, 0.987], xTicks: ticksQed, yTicks: ticksQed, xFmt: '.1f', yFmt: '.1f' },
];

// ---- figure geometry (13x10 in at 300 dpi, default subplot params) ----
const W = 3900;
const H = 3000;
const PT = 300 / 72;
const LEFT = 0.125 * W;
const TOP = 0.12 * H;
const AX_W = (0.775 * W) / 3.4;
const AX_H = (0.77 * H) / 4.6;
const GAP_W = 0.2 * AX_W;
const GAP_H = 0.2 * AX_H;
const FONT = "'DejaVu Sans', sans-serif";
const LEGEND_FS = 10 * PT;
const BIG_TICK_FS = 10 * PT;
const SMALL_TICK_FS = 6.8 * PT;
const TICK_LEN = 3.5 * PT;
const TICK_PAD = 3.5 * PT;
const SPINE_W = 0.8 * PT;
const DOT_R = 5.2;
const DOT_ALPHA = 0.7;

export default function App() {
  const ref = useRef<SVGSVGElement | null>(null);

  useEffect(() => {
    if (!ref.current) return;
    const svg = d3.select(ref.current);
    svg.selectAll('*').remove();
    svg.append('rect').attr('width', W).attr('height', H).attr('fill', 'white');
    const defs = svg.append('defs');

    panels.forEach((p, i) => {
      const col = i % 3;
      const row = Math.floor(i / 3);
      const x0 = LEFT + col * (AX_W + GAP_W);
      const y0 = TOP + row * (AX_H + GAP_H);
      const x = d3.scaleLinear().domain(p.xDomain).range([x0, x0 + AX_W]);
      const y = d3.scaleLinear().domain(p.yDomain).range([y0 + AX_H, y0]);
      const g = svg.append('g');

      const clipId = `ax-clip-${i}`;
      defs.append('clipPath').attr('id', clipId)
        .append('rect').attr('x', x0).attr('y', y0).attr('width', AX_W).attr('height', AX_H);
      const plot = g.append('g').attr('clip-path', `url(#${clipId})`);

      // scatter
      plot.append('g')
        .selectAll('circle')
        .data(p.points)
        .join('circle')
        .attr('cx', (d) => x(d[0]))
        .attr('cy', (d) => y(d[1]))
        .attr('r', DOT_R)
        .attr('fill', '#ff0000')
        .attr('fill-opacity', DOT_ALPHA);

      // y = x reference line
      const lo = Math.min(p.xDomain[0], p.yDomain[0]);
      const hi = Math.max(p.xDomain[1], p.yDomain[1]);
      plot.append('line')
        .attr('x1', x(lo)).attr('y1', y(lo))
        .attr('x2', x(hi)).attr('y2', y(hi))
        .attr('stroke', '#808080')
        .attr('stroke-opacity', 0.5)
        .attr('stroke-width', 1.5 * PT)
        .attr('stroke-dasharray', `${3.7 * 1.5 * PT},${1.6 * 1.5 * PT}`);

      // spines
      g.append('rect')
        .attr('x', x0).attr('y', y0).attr('width', AX_W).attr('height', AX_H)
        .attr('fill', 'none').attr('stroke', 'black').attr('stroke-width', SPINE_W);

      // ticks
      const fs = p.bigTicks ? BIG_TICK_FS : SMALL_TICK_FS;
      const xf = d3.format(p.xFmt ?? 'd');
      const yf = d3.format(p.yFmt ?? 'd');
      const xt = g.append('g');
      p.xTicks.forEach((t) => {
        const tx = x(t);
        xt.append('line')
          .attr('x1', tx).attr('x2', tx)
          .attr('y1', y0 + AX_H).attr('y2', y0 + AX_H + TICK_LEN)
          .attr('stroke', 'black').attr('stroke-width', SPINE_W);
        xt.append('text')
          .attr('x', tx)
          .attr('y', y0 + AX_H + TICK_LEN + TICK_PAD + 0.76 * fs)
          .attr('text-anchor', 'middle')
          .attr('font-family', FONT)
          .attr('font-size', fs)
          .attr('fill', 'black')
          .text(xf(t));
      });
      const yt = g.append('g');
      p.yTicks.forEach((t) => {
        const ty = y(t);
        yt.append('line')
          .attr('x1', x0 - TICK_LEN).attr('x2', x0)
          .attr('y1', ty).attr('y2', ty)
          .attr('stroke', 'black').attr('stroke-width', SPINE_W);
        yt.append('text')
          .attr('x', x0 - TICK_LEN - TICK_PAD)
          .attr('y', ty + 0.37 * fs)
          .attr('text-anchor', 'end')
          .attr('font-family', FONT)
          .attr('font-size', fs)
          .attr('fill', 'black')
          .text(yf(t));
      });

      // legend (upper left)
      const pad = 0.4 * LEGEND_FS;
      const lx = x0 + 0.5 * LEGEND_FS;
      const ly = y0 + 0.5 * LEGEND_FS;
      const leg = g.append('g');
      const frame = leg.append('rect');
      const label = leg.append('text')
        .attr('x', lx + pad + 2.0 * LEGEND_FS + 0.8 * LEGEND_FS)
        .attr('y', ly + pad + 0.76 * LEGEND_FS)
        .attr('font-family', FONT)
        .attr('font-size', LEGEND_FS)
        .attr('fill', 'black')
        .text(p.name);
      const tw = (label.node() as SVGTextElement).getComputedTextLength();
      frame
        .attr('x', lx).attr('y', ly)
        .attr('width', pad * 2 + 2.8 * LEGEND_FS + tw)
        .attr('height', pad * 2 + 0.97 * LEGEND_FS)
        .attr('rx', 0.2 * LEGEND_FS)
        .attr('fill', 'white').attr('fill-opacity', 0.8)
        .attr('stroke', '#cccccc').attr('stroke-opacity', 0.8)
        .attr('stroke-width', 1.0 * PT);
      leg.append('circle')
        .attr('cx', lx + pad + 1.0 * LEGEND_FS)
        .attr('cy', ly + pad + 0.54 * LEGEND_FS)
        .attr('r', DOT_R)
        .attr('fill', '#ff0000')
        .attr('fill-opacity', DOT_ALPHA);
    });
  }, []);

  return (
    <svg
      ref={ref}
      width={W}
      height={H}
      style={{ position: 'absolute', left: 0, top: 0, display: 'block' }}
    />
  );
}
